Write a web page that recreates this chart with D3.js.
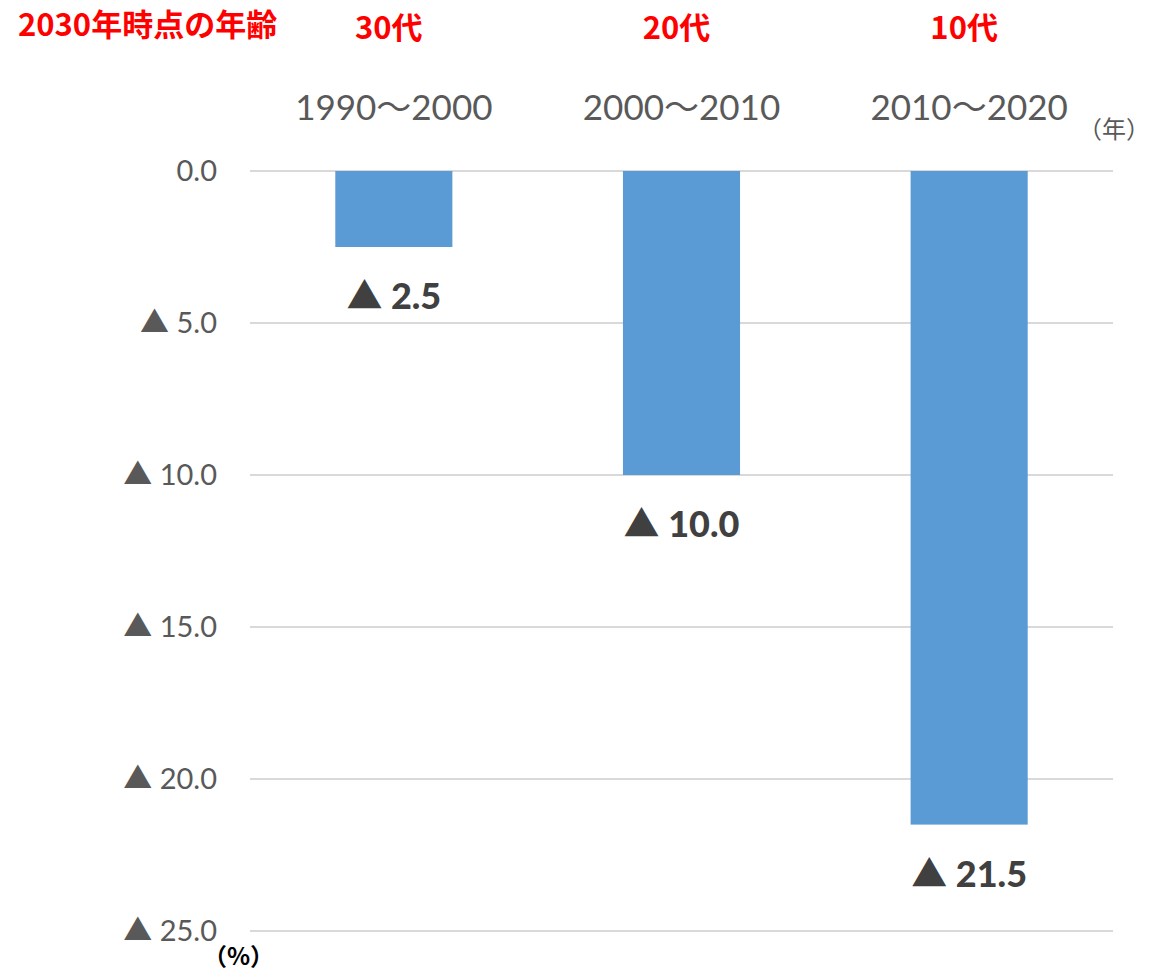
<!DOCTYPE html>
<html>
<head>
<meta charset="utf-8">
<script src="https://cdn.jsdelivr.net/npm/d3@7"></script>
<style>
  body { margin: 0; background: #fff; }
  svg { display: block; }
  .grid { stroke: #d9d9d9; stroke-width: 2; }
  .bar { fill: #5b9bd5; }
  .period-label { font-family: Lato, "Noto Sans CJK JP", sans-serif; font-size: 35px; fill: #595959; }
  .age-label { font-family: "Noto Sans CJK JP", sans-serif; font-weight: bold; font-size: 31px; fill: #ff0000; }
  .value-label { font-family: Lato, "Noto Sans CJK JP", sans-serif; font-weight: 900; font-size: 36px; fill: #404040; }
  .unit { font-family: "Noto Sans CJK JP", sans-serif; }
</style>
</head>
<body>
<svg width="1153" height="973"></svg>
<script>
const periods = ["1990～2000", "2000～2010", "2010～2020"];
const ageGroups = ["30代", "20代", "10代"];
const declines = [2.5, 10.0, 21.5];
const yTicks = [0, 5, 10, 15, 20, 25];

function draw() {
    const data = periods.map((p, i) => ({ period: p, age: ageGroups[i], value: declines[i] }));

    const xScale = d3.scaleBand()
        .domain(periods)
        .range([250, 1113])
        .paddingInner(0.593)
        .paddingOuter(0.2965);

    const yScale = d3.scaleLinear()
        .domain([0, 25])
        .range([171, 931]);

    const fmt = (d) => d === 0 ? "0.0" : "▲ " + d.toFixed(1);
    const cx = (d) => xScale(d.period) + xScale.bandwidth() / 2;

    const svg = d3.select("svg");
    svg.selectAll("*").remove();

    // gridlines
    svg.selectAll(".grid")
        .data(yTicks)
        .enter().append("line")
        .attr("class", "grid")
        .attr("x1", 250)
        .attr("x2", 1113)
        .attr("y1", (d) => yScale(d))
        .attr("y2", (d) => yScale(d));

    // y axis labels
    const yAxis = svg.append("g")
        .attr("transform", "translate(250,0)")
        .call(d3.axisLeft(yScale).tickValues(yTicks).tickFormat(fmt).tickSize(0).tickPadding(33));
    yAxis.select(".domain").remove();
    yAxis.selectAll("text")
        .attr("font-family", "Lato, 'Noto Sans CJK JP', sans-serif")
        .attr("font-size", 29)
        .attr("fill", "#595959");

    svg.selectAll(".bar")
        .data(data)
        .enter().append("rect")
        .attr("class", "bar")
        .attr("x", (d) => xScale(d.period))
        .attr("width", xScale.bandwidth())
        .attr("y", yScale(0))
        .attr("height", (d) => yScale(d.value) - yScale(0));

    svg.selectAll(".value-label")
        .data(data)
        .enter().append("text")
        .attr("class", "value-label")
        .attr("text-anchor", "middle")
        .attr("x", cx)
        .attr("y", (d) => yScale(d.value) + 62)
        .text((d) => fmt(d.value));

    svg.selectAll(".period-label")
        .data(data)
        .enter().append("text")
        .attr("class", "period-label")
        .attr("text-anchor", "middle")
        .attr("x", cx)
        .attr("y", 120)
        .text((d) => d.period);

    svg.selectAll(".age-label")
        .data(data)
        .enter().append("text")
        .attr("class", "age-label")
        .attr("text-anchor", "middle")
        .attr("x", (d) => cx(d) - 5)
        .attr("y", 39)
        .text((d) => d.age);

    svg.append("text")
        .attr("class", "age-label")
        .attr("x", 18)
        .attr("y", 36)
        .attr("font-size", 30)
        .text("2030年時点の年齢");

    svg.append("text")
        .attr("class", "unit")
        .attr("x", 1078)
        .attr("y", 138)
        .attr("font-size", 24)
        .attr("fill", "#595959")
        .text("（年）");

    svg.append("text")
        .attr("class", "unit")
        .attr("x", 203)
        .attr("y", 965)
        .attr("font-size", 24)
        .attr("font-weight", "bold")
        .attr("fill", "#000")
        .text("（%）");
}

draw();
</script>
</body>
</html>
